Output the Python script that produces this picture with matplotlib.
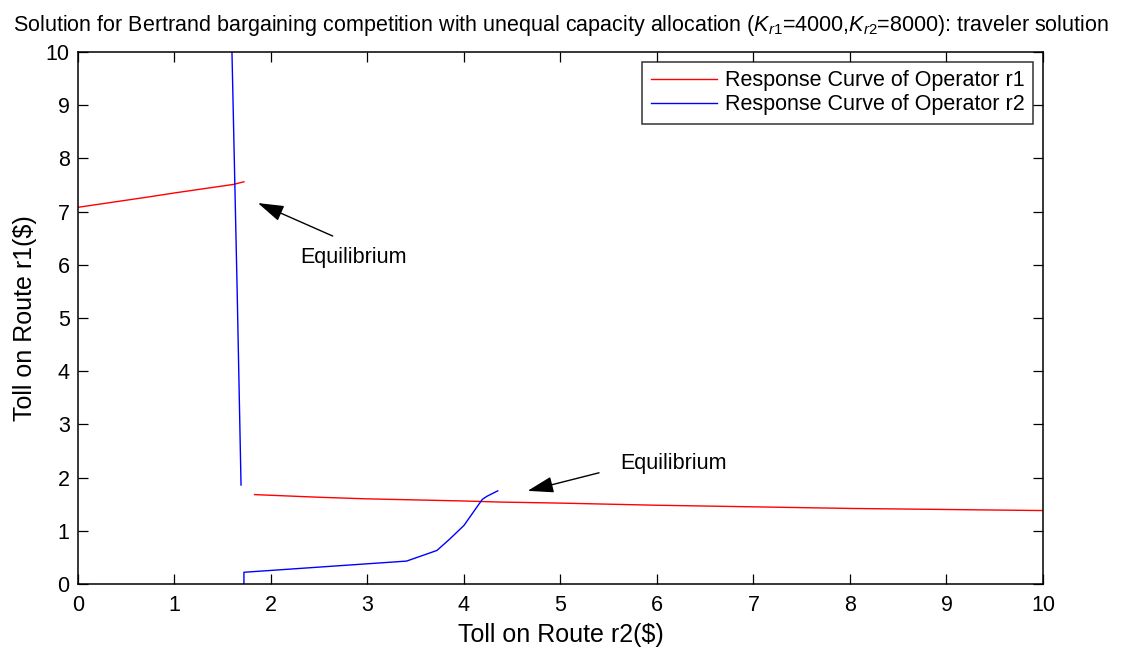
import matplotlib
matplotlib.use("Agg")
import matplotlib.pyplot as plt

plt.rcParams['font.family'] = ['Liberation Sans', 'DejaVu Sans']
plt.rcParams['mathtext.fontset'] = 'custom'
plt.rcParams['mathtext.rm'] = 'Liberation Sans'
plt.rcParams['mathtext.it'] = 'Liberation Sans:italic'

# response curve of operator r1 (toll r1 as a function of toll r2)
r1_upper_x = [0.0, 0.75, 1.0, 1.61, 1.72]
r1_upper_y = [7.08, 7.28, 7.35, 7.51, 7.56]
r1_lower_x = [1.83, 2.5, 3.0, 4.0, 4.37, 5.0, 6.0, 7.0, 8.0, 9.0, 10.0]
r1_lower_y = [1.68, 1.63, 1.60, 1.56, 1.54, 1.52, 1.48, 1.45, 1.42, 1.40, 1.38]

# response curve of operator r2
r2_upper_x = [1.596, 1.65, 1.69]
r2_upper_y = [10.0, 5.5, 1.86]
r2_lower_x = [1.72, 1.72, 3.405, 3.72, 3.85, 4.0, 4.19, 4.24, 4.35]
r2_lower_y = [0.0, 0.22, 0.43, 0.63, 0.84, 1.1, 1.59, 1.65, 1.75]

fig = plt.figure(figsize=(11.28, 6.48), dpi=100)
ax = fig.add_axes([0.0691, 0.0988, 0.8555, 0.821])

ax.plot(r1_upper_x, r1_upper_y, color='red', lw=1.0, label='Response Curve of Operator r1')
ax.plot(r1_lower_x, r1_lower_y, color='red', lw=1.0)
ax.plot(r2_upper_x, r2_upper_y, color='blue', lw=1.0, label='Response Curve of Operator r2')
ax.plot(r2_lower_x, r2_lower_y, color='blue', lw=1.0)

arrow = dict(arrowstyle='-|>,head_length=0.8,head_width=0.25', color='black', lw=1.0,
             mutation_scale=20, shrinkA=0, shrinkB=0)
ax.annotate('', xy=(1.865, 7.16), xytext=(2.64, 6.54), arrowprops=arrow)
ax.text(2.3, 6.13, 'Equilibrium', fontsize=15.5, ha='left', va='center')
ax.annotate('', xy=(4.66, 1.75), xytext=(5.40, 2.09), arrowprops=arrow)
ax.text(5.62, 2.26, 'Equilibrium', fontsize=15.5, ha='left', va='center')

ax.set_xlim(0, 10)
ax.set_ylim(0, 10)
ax.set_xticks(range(0, 11))
ax.set_yticks(range(0, 11))
ax.tick_params(direction='in', top=True, right=True, labelsize=15.5, length=7, width=0.9)
ax.tick_params(axis='x', pad=8)
ax.tick_params(axis='y', pad=6)
for s in ax.spines.values():
    s.set_linewidth(1.1)
ax.set_xlabel('Toll on Route r2($)', fontsize=18, labelpad=5)
ax.set_ylabel('Toll on Route r1($)', fontsize=18, labelpad=6)
ax.set_title(r'Solution for Bertrand bargaining competition with unequal capacity allocation '
             r'($K_{r1}$=4000,$K_{r2}$=8000): traveler solution', fontsize=15.5, pad=15)

leg = ax.legend(loc='upper right', fontsize=15.5, frameon=True, fancybox=False,
                edgecolor='black', borderaxespad=0.45, handlelength=3.1,
                handletextpad=0.35, borderpad=0.4, labelspacing=0.15)
leg.get_frame().set_linewidth(1.1)

fig.savefig('out.png', dpi=100)
